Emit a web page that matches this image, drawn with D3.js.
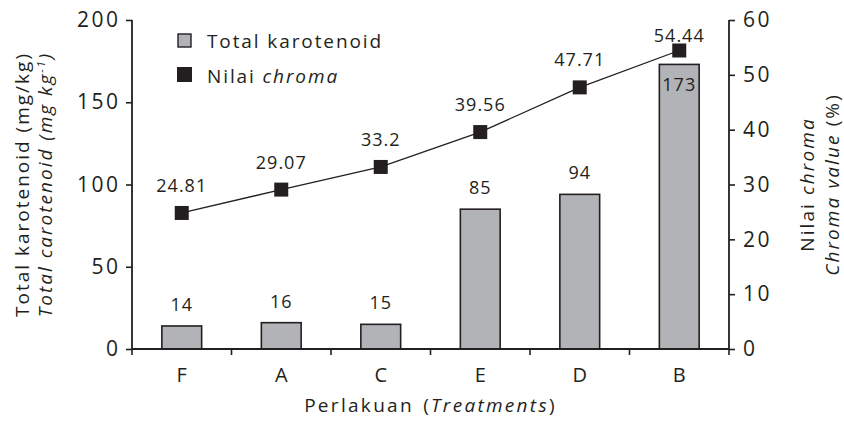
<!DOCTYPE html>
<html><head><meta charset="utf-8">
<script src="https://cdn.jsdelivr.net/npm/d3@7"></script>
<style>body{margin:0;background:#fff}svg{display:block}text{font-family:"Open Sans",sans-serif;fill:#231f20}</style>
</head><body><div id="chart"></div>
<script>
const categories = ["F","A","C","E","D","B"];
const karotenoid = [14,16,15,85,94,173];
const chroma = [24.81,29.07,33.2,39.56,47.71,54.44];
const chromaLabels = ["24.81","29.07","33.2","39.56","47.71","54.44"];
const leftTicks = [0,50,100,150,200];
const rightTicks = [0,10,20,30,40,50,60];

const W=844,H=424;
const m={l:132,r:115,t:20,b:75};
const svg=d3.select("#chart").append("svg").attr("width",W).attr("height",H);
const x=d3.scaleBand().domain(categories).range([m.l,W-m.r]).paddingInner(0.6).paddingOuter(0.3);
const xb=d3.scaleBand().domain(categories).range([m.l,W-m.r]);
const yL=d3.scaleLinear().domain([0,200]).range([H-m.b,m.t]);
const yR=d3.scaleLinear().domain([0,60]).range([H-m.b,m.t]);
const ink="#231f20";
const fs=19;

// bars
svg.append("g").selectAll("rect").data(karotenoid).join("rect")
 .attr("x",(d,i)=>x(categories[i])).attr("width",x.bandwidth())
 .attr("y",d=>yL(d)).attr("height",d=>yL(0)-yL(d))
 .attr("fill","#b2b3b6").attr("stroke",ink).attr("stroke-width",1.6);

// axes
const axL=svg.append("g").attr("transform",`translate(${m.l},0)`)
 .call(d3.axisLeft(yL).tickValues(leftTicks).tickSize(6).tickPadding(8));
const axR=svg.append("g").attr("transform",`translate(${W-m.r},0)`)
 .call(d3.axisRight(yR).tickValues(rightTicks).tickSize(6).tickPadding(8));
const axX=svg.append("g").attr("transform",`translate(0,${H-m.b})`)
 .call(d3.axisBottom(xb).tickSize(0).tickPadding(19));
// x boundary ticks
svg.append("g").selectAll("line").data(categories.concat(["_end"])).join("line")
 .attr("x1",(d,i)=>i<categories.length?xb(d):xb.range()[1])
 .attr("x2",(d,i)=>i<categories.length?xb(d):xb.range()[1])
 .attr("y1",H-m.b).attr("y2",H-m.b+6).attr("stroke",ink).attr("stroke-width",1.6);
[axL,axR,axX].forEach(a=>{
 a.selectAll("path").attr("stroke",ink).attr("stroke-width",1.8);
 a.selectAll("line").attr("stroke",ink).attr("stroke-width",1.6);
 a.selectAll("text").attr("font-size",fs+1).attr("fill",ink).style("font-family","'Open Sans',sans-serif");
});
axL.selectAll("text").attr("font-size",21).style("letter-spacing","2.5px").attr("dx","2.5px");
axR.selectAll("text").attr("font-size",21).style("letter-spacing","2.5px");
axL.select("path").attr("d",`M0,${m.t}V${H-m.b}`);
axR.select("path").attr("d",`M0,${m.t}V${H-m.b}`);
axX.select("path").attr("d",`M${m.l},0H${W-m.r}`);

// bar labels
svg.append("g").selectAll("text").data(karotenoid).join("text")
 .attr("x",(d,i)=>x(categories[i])+x.bandwidth()/2)
 .attr("y",(d,i)=>{const above=yL(d)-15; const pt=yR(chroma[i]); return Math.abs(above-pt)<30? yL(d)+27 : above;})
 .attr("text-anchor","middle").attr("font-size",fs-1).style("letter-spacing","1px").text(d=>d);

// line
const lineGen=d3.line().x((d,i)=>xb(categories[i])+xb.bandwidth()/2).y(d=>yR(d));
svg.append("path").datum(chroma).attr("d",lineGen).attr("fill","none").attr("stroke",ink).attr("stroke-width",1.3);
svg.append("g").selectAll("rect").data(chroma).join("rect")
 .attr("x",(d,i)=>xb(categories[i])+xb.bandwidth()/2-7).attr("y",d=>yR(d)-7)
 .attr("width",14).attr("height",14).attr("fill",ink);
svg.append("g").selectAll("text").data(chroma).join("text")
 .attr("x",(d,i)=>xb(categories[i])+xb.bandwidth()/2)
 .attr("y",d=>Math.max(yR(d)-21,m.t+22))
 .attr("text-anchor","middle").attr("font-size",fs-1).style("letter-spacing","1px").text((d,i)=>chromaLabels[i]);

// legend
const lg=svg.append("g");
lg.append("rect").attr("x",178).attr("y",34).attr("width",13).attr("height",13).attr("fill","#b2b3b6").attr("stroke",ink).attr("stroke-width",1.4);
lg.append("text").attr("x",207).attr("y",48).attr("font-size",fs).style("letter-spacing","1.9px").text("Total karotenoid");
lg.append("rect").attr("x",177).attr("y",67).attr("width",15).attr("height",15).attr("fill",ink);
const t2=lg.append("text").attr("x",207).attr("y",83).attr("font-size",fs).style("letter-spacing","1.9px");
t2.append("tspan").text("Nilai ");
t2.append("tspan").attr("font-style","italic").text("chroma");

// axis titles
const cy=(m.t+H-m.b)/2;
const lt=svg.append("text").attr("transform",`translate(29,${cy}) rotate(-90)`).attr("text-anchor","middle").attr("font-size",fs).style("letter-spacing","2px");
lt.append("tspan").text("Total karotenoid (mg/kg)");
const lt2=svg.append("text").attr("transform",`translate(52,${cy}) rotate(-90)`).attr("text-anchor","middle").attr("font-size",fs).style("letter-spacing","2px");
lt2.append("tspan").attr("font-style","italic").text("Total carotenoid (mg kg");
lt2.append("tspan").attr("font-style","italic").attr("font-size",11).attr("dy",-7).text("-1");
lt2.append("tspan").attr("font-style","italic").attr("dy",7).text(")");

const rt=svg.append("text").attr("transform",`translate(814,${cy}) rotate(-90)`).attr("text-anchor","middle").attr("font-size",fs).style("letter-spacing","2.1px");
rt.append("tspan").text("Nilai ");
rt.append("tspan").attr("font-style","italic").text("chroma");
const rt2=svg.append("text").attr("transform",`translate(839,${cy}) rotate(-90)`).attr("text-anchor","middle").attr("font-size",fs).style("letter-spacing","2.1px");
rt2.append("tspan").attr("font-style","italic").text("Chroma value");
rt2.append("tspan").text(" (%)");

const xt=svg.append("text").attr("x",(m.l+W-m.r)/2).attr("y",412).attr("text-anchor","middle").attr("font-size",fs).style("letter-spacing","2.3px").style("word-spacing","2px");
xt.append("tspan").text("Perlakuan (");
xt.append("tspan").attr("font-style","italic").text("Treatments");
xt.append("tspan").text(")");
</script></body></html>
